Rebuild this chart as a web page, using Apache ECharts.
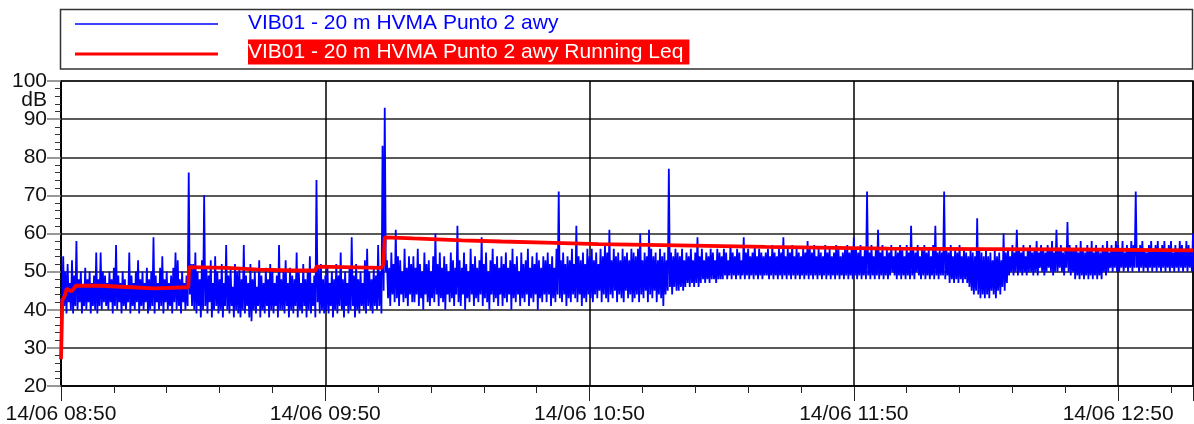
<!DOCTYPE html>
<html>
<head>
<meta charset="utf-8">
<script src="https://cdn.jsdelivr.net/npm/echarts@6/dist/echarts.min.js"></script>
<style>
html,body{margin:0;padding:0;background:#fff;}
#c{width:1194px;height:424px;}
</style>
</head>
<body>
<div id="c"></div>
<script>
// Blue series: level (dB), one value every 15 s starting at 14/06 08:50
const blueValues = [
43,40,54,41,50,39,52,42,47,40,53,39,49,41,58,40,48,42,50,39,46,41,51,40,48,42,50,39,47,41,49,40,55,39,48,41,55,40,50,42,
49,41,47,40,50,42,48,39,51,41,57,40,49,42,47,39,50,41,48,40,46,42,55,39,49,41,47,40,50,42,53,39,48,41,50,40,47,42,51,39,
48,40,50,41,59,39,49,42,47,40,51,41,54,39,48,42,50,40,47,41,49,39,51,42,55,40,53,41,48,39,50,42,47,40,49,41,76,44,52,41,
52,40,55,39,50,41,48,38,53,40,70,41,51,39,49,42,53,38,47,40,54,41,50,39,48,40,52,38,47,41,57,40,49,39,51,41,46,38,52,40,
50,39,51,38,48,40,57,39,49,41,47,38,52,37,48,40,50,39,46,41,53,38,49,40,47,39,51,41,48,38,52,40,50,39,47,41,49,38,57,40,
48,40,50,39,53,41,47,38,51,40,49,39,48,41,55,38,50,40,47,39,52,41,48,38,50,40,54,39,47,41,49,38,74,42,51,39,52,40,48,39,
49,40,51,39,47,41,50,38,48,40,52,39,49,41,55,40,48,38,50,41,47,39,51,40,59,41,49,38,52,40,48,39,50,41,47,40,53,39,56,41,
50,40,48,39,51,41,49,40,57,41,50,39,83,45,93,50,53,43,51,41,55,44,52,42,61,43,54,41,53,44,50,42,56,43,51,41,54,44,52,42,
54,42,51,44,56,41,52,43,50,40,55,44,52,42,53,41,50,43,54,42,60,44,52,41,55,43,51,42,54,40,52,44,50,42,55,43,53,41,51,44,
62,42,53,41,51,44,55,40,52,43,50,42,56,44,52,41,54,43,51,42,53,44,59,41,52,43,55,42,50,40,53,44,56,42,52,43,54,41,51,44,
54,41,52,43,55,42,51,44,53,40,56,43,52,42,54,44,50,41,55,43,52,42,53,44,56,41,51,43,54,42,52,44,55,40,53,43,51,42,54,44,
53,42,55,44,52,41,54,43,51,42,56,44,71,43,53,42,55,44,52,41,54,43,53,42,56,44,52,43,62,42,54,44,53,41,55,43,52,42,56,44,
54,43,56,42,53,44,55,43,52,45,56,42,54,44,57,43,55,42,61,44,53,43,56,45,54,42,55,44,53,43,56,42,54,45,55,43,53,44,56,42,
55,43,54,44,56,42,60,44,53,43,55,45,54,42,61,44,56,43,54,45,55,42,53,44,56,43,54,41,55,44,53,45,77,46,55,44,54,46,56,45,
55,45,54,46,56,45,53,46,55,47,54,46,56,47,53,46,55,47,59,46,54,47,56,48,53,47,55,48,54,47,56,48,55,48,53,47,56,48,55,48,
54,48,56,49,55,48,53,49,57,48,55,49,54,48,56,49,55,48,53,49,59,48,55,49,56,48,54,49,55,48,57,49,54,48,56,49,55,48,54,49,
55,49,56,48,54,49,57,48,55,49,54,48,56,49,55,48,59,49,54,48,56,49,55,48,57,49,54,48,56,49,55,48,54,49,56,48,55,49,58,48,
56,49,55,48,57,49,54,48,56,49,55,48,54,49,57,48,55,49,56,48,54,49,55,48,57,49,56,48,54,49,55,48,56,49,57,48,55,49,56,48,
59,49,56,48,55,49,57,48,54,49,56,48,71,49,55,48,57,49,54,48,56,49,61,48,55,49,57,48,54,49,56,48,55,49,57,50,54,49,56,48,
55,49,57,48,56,49,54,48,57,49,55,48,62,49,56,48,55,50,57,49,54,48,56,49,57,48,55,49,56,48,54,49,57,48,62,49,55,48,56,49,
55,49,71,48,56,49,55,47,57,48,54,47,56,48,55,47,57,48,54,47,56,48,55,47,54,46,56,45,55,44,54,45,64,44,56,43,55,44,54,43,
56,44,54,43,55,45,53,44,56,43,54,45,55,44,53,46,60,45,55,47,56,49,54,50,57,49,55,50,61,49,56,50,55,49,57,50,54,49,56,50,
57,50,55,49,56,50,58,49,55,51,57,50,56,49,55,50,57,51,56,50,58,49,55,50,61,50,56,51,57,50,55,49,56,51,63,50,57,49,56,50,
56,48,57,49,55,48,58,49,56,48,55,49,57,48,56,49,58,48,55,49,57,48,56,49,55,48,57,50,56,49,58,50,55,51,57,50,56,51,58,50,
57,50,56,51,58,50,55,51,57,50,56,51,58,50,57,51,71,51,56,50,57,51,58,50,56,51,55,50,57,51,58,50,56,51,57,50,58,51,56,50,
57,51,58,50,56,51,57,50,58,51,55,50,57,51,56,50,58,51,57,50,56,51,58,50,57,51,56,50,60,51,57,50,58,51,56,50,57,51,58,50
];
const blueStepMin = 0.25; // sampling interval in minutes

// Red series: running Leq (minutes after 08:50, dB)
const redTimes  = [0,0.3,0.8,1.3,2.4,3.4,9,16,21,28.9,29.1,37.6,45,52.7,57.8,58.0,72.8,73.2,73.5,80,91,100,110,122,140,160,188,210,230,257];
const redValues = [27,42.5,43.5,45.5,44.8,46.3,46.3,45.9,45.6,45.9,51.2,51,50.5,50.3,50.3,51.3,51.0,52,59.0,58.7,58.2,57.9,57.6,57.2,56.9,56.5,56.05,55.9,55.8,55.6];

const xTickLabels = ['14/06 08:50','14/06 09:50','14/06 10:50','14/06 11:50','14/06 12:50'];
const seriesNames = ['VIB01 - 20 m HVMA Punto 2 awy','VIB01 - 20 m HVMA Punto 2 awy Running Leq'];
const xMaxMin = 257;

const FONT = "'Liberation Sans', Arial, sans-serif";
const blueData = blueValues.map((v,i)=>[i*blueStepMin, v]);
const redData = redTimes.map((t,i)=>[t, redValues[i]]);

const chart = echarts.init(document.getElementById('c'), null, {renderer:'canvas'});
chart.setOption({
  animation:false,
  backgroundColor:'#fff',
  grid:{left:61, right:1, top:81, bottom:38, show:true, borderColor:'#000', borderWidth:1.5,
        backgroundColor:'transparent', containLabel:false, outerBoundsMode:'none'},
  xAxis:{
    type:'value', min:0, max:xMaxMin, interval:60,
    axisLine:{show:true, lineStyle:{color:'#000', width:1.5}},
    axisTick:{show:true, inside:false, length:15, lineStyle:{color:'#222', width:1}},
    minorTick:{show:true, splitNumber:5, length:7, lineStyle:{color:'#222', width:1}},
    minorSplitLine:{show:false},
    splitLine:{show:true, lineStyle:{color:'#000', width:1.5}},
    axisLabel:{
      show:true, margin:18, color:'#111', fontSize:21, fontFamily:FONT,
      showMaxLabel:false, hideOverlap:false,
      formatter:function(v){ return (v % 60 === 0 && xTickLabels[v/60]) ? xTickLabels[v/60] : ''; }
    }
  },
  yAxis:{
    type:'value', min:20, max:100, interval:10,
    axisLine:{show:true, lineStyle:{color:'#000', width:1.5}},
    axisTick:{show:true, inside:false, length:14, lineStyle:{color:'#777', width:1.5}},
    minorTick:{show:true, splitNumber:5, length:6, lineStyle:{color:'#333', width:1}},
    splitLine:{show:true, lineStyle:{color:'#222', width:1.5}},
    axisLabel:{show:true, margin:14, color:'#111', fontSize:21, fontFamily:FONT}
  },
  series:[
    {name:seriesNames[0], type:'line', data:blueData, showSymbol:false, symbol:'none',
     lineStyle:{color:'#0000ff', width:1.8}, itemStyle:{color:'#0000ff'}, z:2},
    {name:seriesNames[1], type:'line', data:redData, showSymbol:false, symbol:'none',
     lineStyle:{color:'#ff0000', width:3.8}, itemStyle:{color:'#ff0000'}, z:3}
  ],
  graphic:[
    {type:'rect', shape:{x:60.5, y:9.5, width:1132, height:59.5}, style:{fill:'none', stroke:'#333', lineWidth:1.5}},
    {type:'line', shape:{x1:75, y1:24, x2:218, y2:24}, style:{stroke:'#0000ff', lineWidth:1.5}},
    {type:'line', shape:{x1:75, y1:54, x2:218, y2:54}, style:{stroke:'#ff0000', lineWidth:3}},
    {type:'text', x:248, y:23, style:{text:seriesNames[0], fill:'#0000ff', font:'21px '+FONT, verticalAlign:'middle', align:'left'}},
    {type:'text', x:248, y:52, style:{text:seriesNames[1], fill:'#fff', font:'21px '+FONT, verticalAlign:'middle', align:'left',
       backgroundColor:'#ff0000', padding:[2,6,2,0]}},
    {type:'text', x:47, y:100, style:{text:'dB', fill:'#111', font:'21px '+FONT, verticalAlign:'middle', align:'right'}}
  ]
});
</script>
</body>
</html>
